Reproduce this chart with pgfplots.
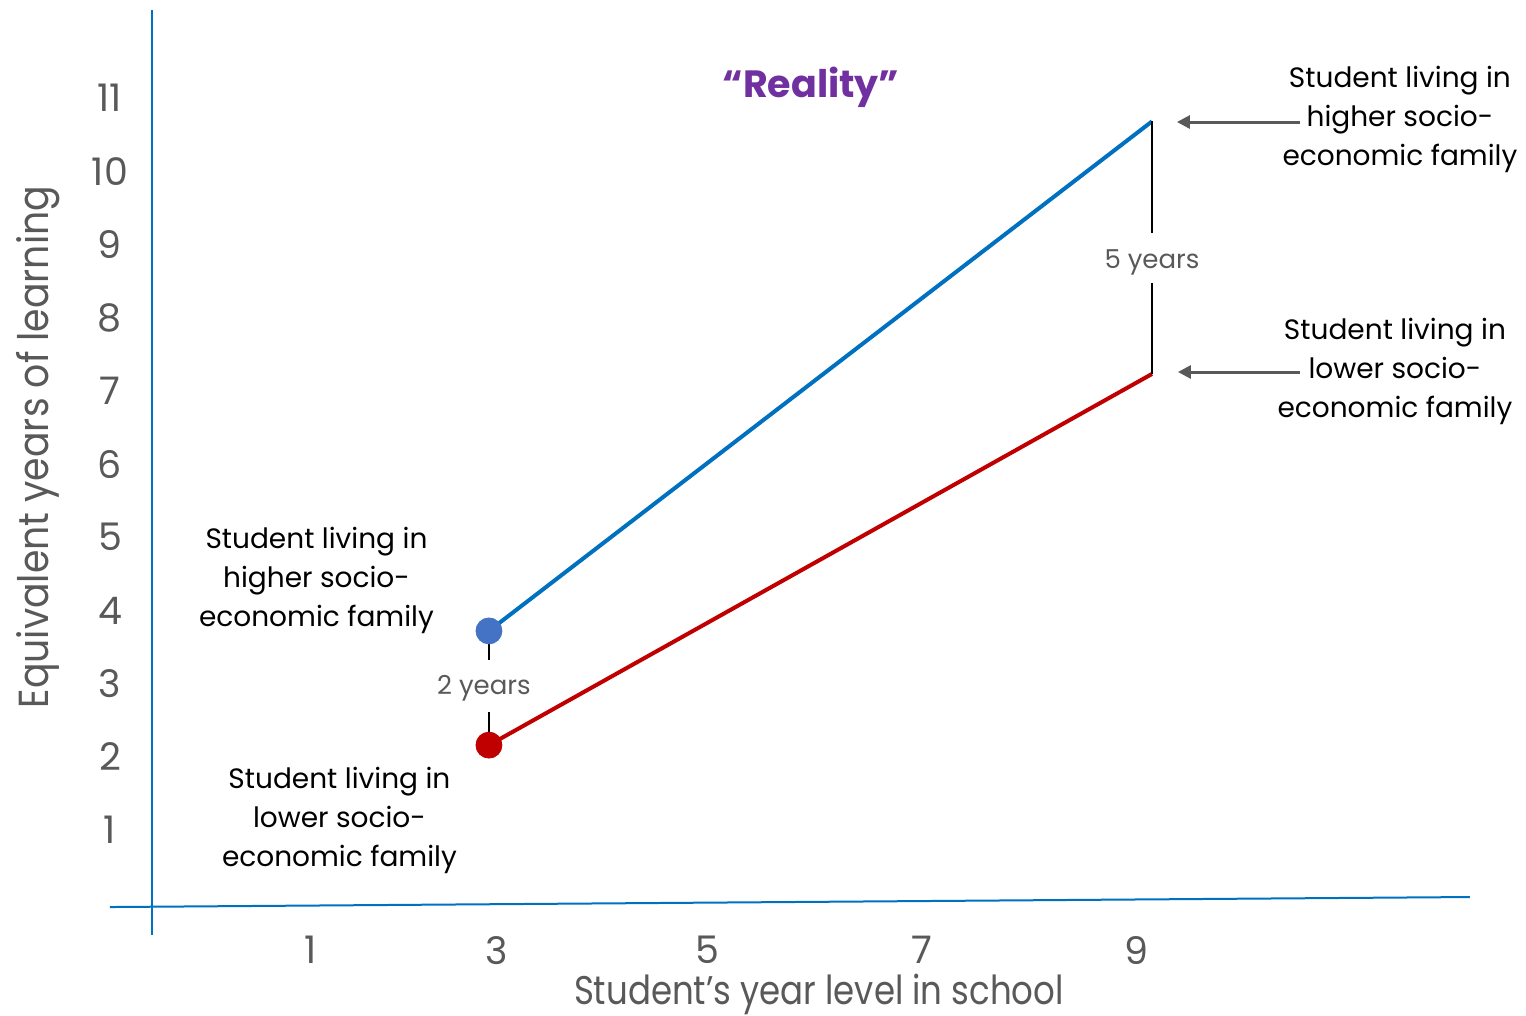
\documentclass[border=0pt]{standalone}
\usepackage{pgfplots}
\pgfplotsset{compat=1.18}
\usepackage{fontspec}
\setmainfont{Poppins}
\usetikzlibrary{arrows.meta}
\definecolor{axblue}{HTML}{0070C0}
\definecolor{dotblue}{HTML}{4472C4}
\definecolor{redl}{HTML}{C00000}
\definecolor{txtgray}{HTML}{595959}
\definecolor{purp}{HTML}{7030A0}
\begin{document}
\begin{tikzpicture}
\begin{axis}[
 scale only axis, width=659pt, height=446.6pt,
 xmin=-0.0498, xmax=11.878, ymin=0, ymax=12.202,
 clip=false,
 axis x line*=bottom, axis y line*=left,
 axis line style={draw=none},
 major tick length=0pt,
 xtick={1.389,3.072,4.973,6.919,8.864},
 xticklabels={1,3,5,7,9},
 ytick={1,2,3,4,5,6,7,8,9,10,11},
 /pgf/number format/assume math mode=true,
 ticklabel style={font=\fontsize{19}{19}\selectfont, text=txtgray},
 yticklabel style={anchor=center, xshift=-21pt},
 xticklabel style={anchor=center, yshift=-23.5pt},
]
% axis lines
\addplot[axblue, line width=1pt] coordinates {(-0.0498,12.202) (-0.0498,-0.434)};
\addplot[axblue, line width=1pt] coordinates {(-0.430,-0.052) (11.878,0.0847)};
% series
\addplot[axblue, line width=2pt] coordinates {(3,3.72) (9,10.68)};
\addplot[redl, line width=2pt] coordinates {(3,2.16) (9,7.23)};
\addplot[only marks, mark=*, mark size=6.5pt, color=dotblue] coordinates {(3,3.72)};
\addplot[only marks, mark=*, mark size=6.5pt, color=redl] coordinates {(3,2.16)};
% gap lines
\addplot[black, line width=1pt] coordinates {(9,10.68) (9,9.156)};
\addplot[black, line width=1pt] coordinates {(9,8.473) (9,7.23)};
\addplot[black, line width=1pt] coordinates {(3,3.72) (3,3.322)};
\addplot[black, line width=1pt] coordinates {(3,2.612) (3,2.16)};
\node[text=txtgray, font=\fontsize{13}{13}\selectfont] at (axis cs:9,8.76) {5 years};
\node[text=txtgray, font=\fontsize{13}{13}\selectfont] at (axis cs:2.955,2.93) {2 years};
% arrows
\draw[txtgray, line width=1.5pt, -{Triangle[length=6.5pt,width=6.5pt]}] (axis cs:10.34,10.672) -- (axis cs:9.226,10.672);
\draw[txtgray, line width=1.5pt, -{Triangle[length=6.5pt,width=6.5pt]}] (axis cs:10.34,7.257) -- (axis cs:9.235,7.257);
% annotations
\node[align=center, font=\fontsize{14}{19.5}\selectfont] at (axis cs:11.244,10.71) {Student living in\\higher socio-\\economic family};
\node[align=center, font=\fontsize{14}{19.5}\selectfont] at (axis cs:11.199,7.27) {Student living in\\lower socio-\\economic family};
\node[align=center, font=\fontsize{14}{19.5}\selectfont] at (axis cs:1.439,4.41) {Student living in\\higher socio-\\economic family};
\node[align=center, font=\fontsize{14}{19.5}\selectfont] at (axis cs:1.647,1.13) {Student living in\\lower socio-\\economic family};
\node[text=purp, font=\fontsize{19}{19}\selectfont\bfseries] at (axis cs:5.914,11.15) {“Reality”};
% axis titles
\node[rotate=90, text=txtgray, font=\fontsize{21}{21}\selectfont] at (axis cs:-1.081,6.232) {\scalebox{0.9}[1]{Equivalent years of learning}};
\node[text=txtgray, font=\fontsize{20}{20}\selectfont] at (axis cs:5.986,-1.24) {\scalebox{0.85}[1]{Student’s year level in school}};
\coordinate (bbsw) at (axis cs:-1.425,-1.5274);
\coordinate (bbne) at (axis cs:12.385,12.339);
\end{axis}
\pgfresetboundingbox
\path[use as bounding box] (bbsw) rectangle (bbne);
\end{tikzpicture}
\end{document}
